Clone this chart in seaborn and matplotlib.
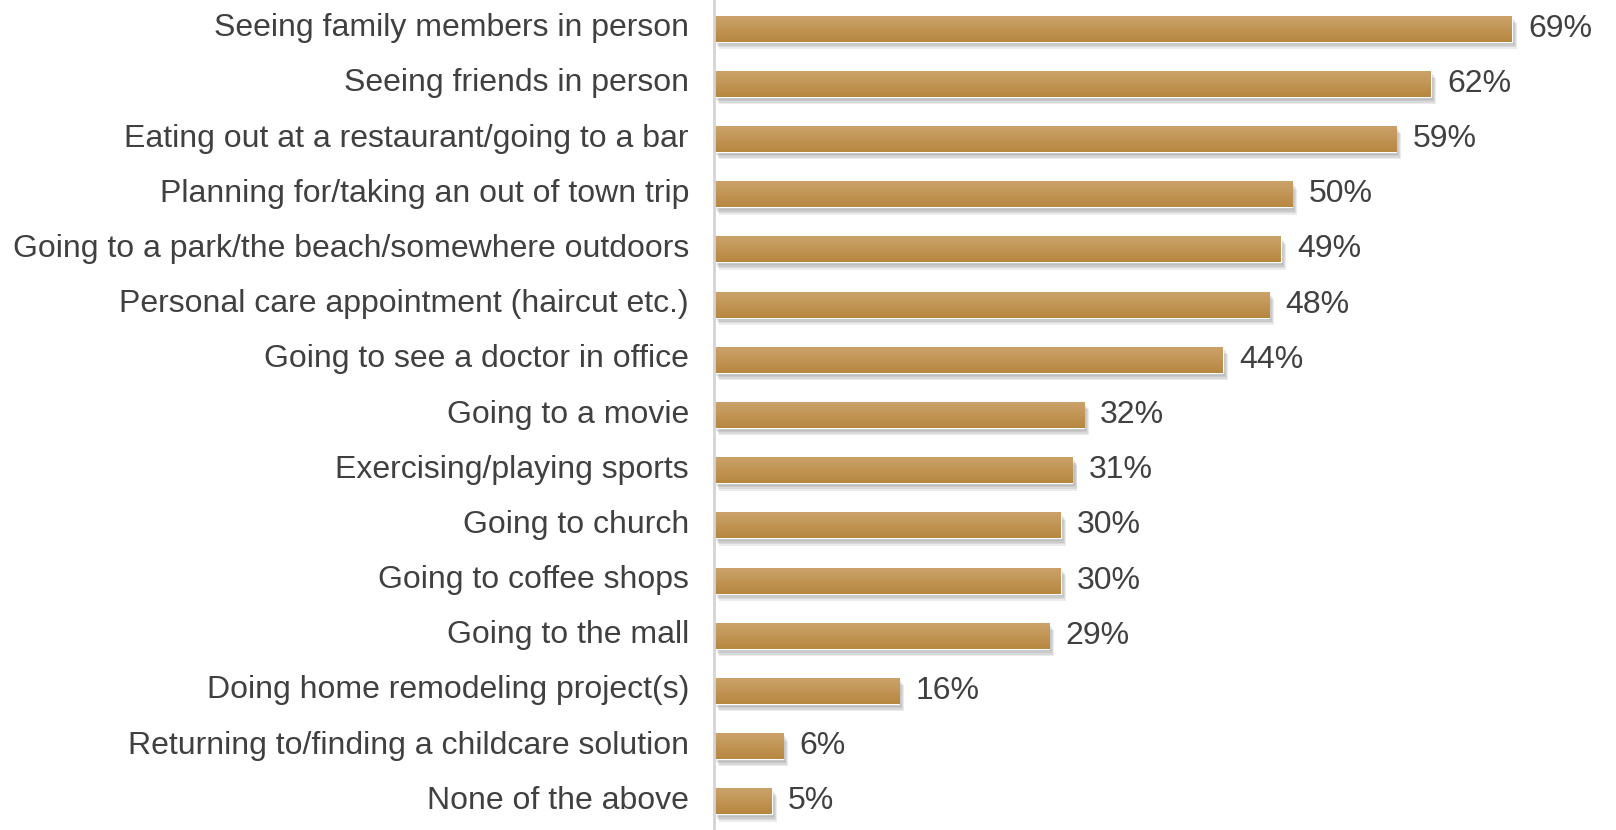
import numpy as np
import pandas as pd
import matplotlib
matplotlib.use("Agg")
import matplotlib.pyplot as plt
import matplotlib.patheffects as pe
import matplotlib.transforms as mtransforms
from matplotlib.colors import LinearSegmentedColormap
import seaborn as sns

activities = [
    "Seeing family members in person",
    "Seeing friends in person",
    "Eating out at a restaurant/going to a bar",
    "Planning for/taking an out of town trip",
    "Going to a park/the beach/somewhere outdoors",
    "Personal care appointment (haircut etc.)",
    "Going to see a doctor in office",
    "Going to a movie",
    "Exercising/playing sports",
    "Going to church",
    "Going to coffee shops",
    "Going to the mall",
    "Doing home remodeling project(s)",
    "Returning to/finding a childcare solution",
    "None of the above",
]
shares = [69, 62, 59, 50, 49, 48, 44, 32, 31, 30, 30, 29, 16, 6, 5]

df = pd.DataFrame({"activity": activities, "share": shares})

sns.set_theme(style="white")
plt.rcParams["font.family"] = ["Liberation Sans", "DejaVu Sans"]

text_color = "#404040"
fig = plt.figure(figsize=(16.16, 8.30), dpi=100)
ax = fig.add_axes([714 / 1616, 0.0, 1 - 714 / 1616, 1.0])

sns.barplot(data=df, x="share", y="activity", orient="h", color="#C3944F",
            width=0.47, ax=ax, saturation=1)

# vertical gold gradient inside each bar, plus a soft layered drop shadow
grad = LinearSegmentedColormap.from_list("gold", ["#B7873F", "#CBA26A"])
shadow = [pe.SimplePatchShadow(offset=(1.5 + k * 0.7, -2.0 - k * 1.1),
                               shadow_rgbFace="#666666", alpha=0.13)
          for k in range(4)] + [pe.Normal()]
for patch in ax.patches:
    patch.set_path_effects(shadow)
    x0, y0 = patch.get_x(), patch.get_y()
    w, h = patch.get_width(), patch.get_height()
    im = ax.imshow(np.linspace(0, 1, 64).reshape(-1, 1), cmap=grad, aspect="auto",
                   extent=(x0, x0 + w, y0, y0 + h), origin="upper",
                   zorder=patch.get_zorder() + 0.1, interpolation="bicubic")
    im.set_clip_path(patch)

for i, v in enumerate(shares):
    ax.text(v + 1.4, i, f"{v}%", va="center", ha="left", fontsize=23,
            color=text_color)

ax.set_xlim(0, 78)
ax.set_ylim(len(activities) - 0.5 + 0.02, -0.5 - 0.02)
ax.set_xlabel("")
ax.set_ylabel("")
ax.set_xticks([])
ax.tick_params(axis="y", length=0, pad=18, labelsize=23, labelcolor=text_color)

# category labels sit a few pixels above the bar centre line
lift = mtransforms.ScaledTranslation(0, 4 / 100, fig.dpi_scale_trans)
for lbl in ax.get_yticklabels():
    lbl.set_transform(lbl.get_transform() + lift)

for s in ["top", "right", "bottom"]:
    ax.spines[s].set_visible(False)
ax.spines["left"].set_color("#D4D4D4")
ax.spines["left"].set_linewidth(2)
ax.set_facecolor("white")

fig.savefig("out.png", dpi=100, facecolor="white")
